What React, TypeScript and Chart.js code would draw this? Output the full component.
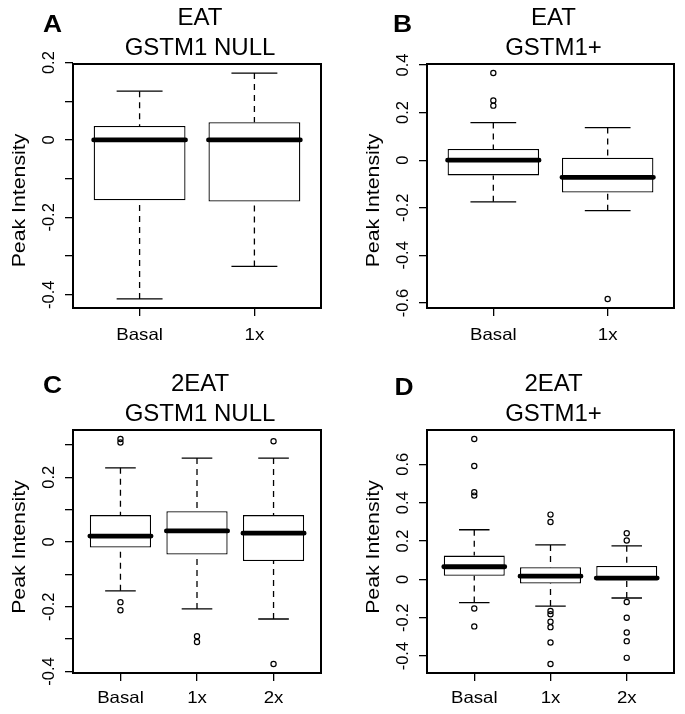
import React, { useEffect, useRef } from 'react';
import { Chart, registerables } from 'chart.js';

Chart.register(...registerables);

// ---------- Panel A: EAT / GSTM1 NULL ----------
const A_LETTER = 'A';
const A_TITLE = ['EAT', 'GSTM1 NULL'];
const A_CATEGORIES = ['Basal', '1x'];
const A_WHISKER_LOW = [-0.411, -0.327];
const A_Q1 = [-0.156, -0.159];
const A_MEDIAN = [0.0, 0.0];
const A_Q3 = [0.036, 0.046];
const A_WHISKER_HIGH = [0.126, 0.173];
const A_OUTLIERS: number[][] = [[], []];
const A_Y_TICKS = [-0.4, -0.3, -0.2, -0.1, 0, 0.1, 0.2];
const A_Y_TICK_LABELS = ['-0.4', '', '-0.2', '', '0', '', '0.2'];

// ---------- Panel B: EAT / GSTM1+ ----------
const B_LETTER = 'B';
const B_TITLE = ['EAT', 'GSTM1+'];
const B_CATEGORIES = ['Basal', '1x'];
const B_WHISKER_LOW = [-0.175, -0.212];
const B_Q1 = [-0.064, -0.136];
const B_MEDIAN = [0.0, -0.072];
const B_Q3 = [0.047, 0.01];
const B_WHISKER_HIGH = [0.158, 0.137];
const B_OUTLIERS: number[][] = [[0.366, 0.251, 0.229], [-0.583]];
const B_Y_TICKS = [-0.6, -0.4, -0.2, 0, 0.2, 0.4];
const B_Y_TICK_LABELS = ['-0.6', '-0.4', '-0.2', '0', '0.2', '0.4'];

// ---------- Panel C: 2EAT / GSTM1 NULL ----------
const C_LETTER = 'C';
const C_TITLE = ['2EAT', 'GSTM1 NULL'];
const C_CATEGORIES = ['Basal', '1x', '2x'];
const C_WHISKER_LOW = [-0.151, -0.207, -0.238];
const C_Q1 = [-0.017, -0.039, -0.059];
const C_MEDIAN = [0.018, 0.034, 0.027];
const C_Q3 = [0.083, 0.095, 0.083];
const C_WHISKER_HIGH = [0.229, 0.259, 0.259];
const C_OUTLIERS: number[][] = [
  [0.318, 0.307, -0.186, -0.211],
  [-0.291, -0.309],
  [0.311, -0.377],
];
const C_Y_TICKS = [-0.4, -0.3, -0.2, -0.1, 0, 0.1, 0.2, 0.3];
const C_Y_TICK_LABELS = ['-0.4', '', '-0.2', '', '0', '', '0.2', ''];

// ---------- Panel D: 2EAT / GSTM1+ ----------
const D_LETTER = 'D';
const D_TITLE = ['2EAT', 'GSTM1+'];
const D_CATEGORIES = ['Basal', '1x', '2x'];
const D_WHISKER_LOW = [-0.121, -0.139, -0.097];
const D_Q1 = [0.019, -0.021, 0.001];
const D_MEDIAN = [0.066, 0.017, 0.007];
const D_Q3 = [0.124, 0.063, 0.07];
const D_WHISKER_HIGH = [0.259, 0.18, 0.175];
const D_OUTLIERS: number[][] = [
  [0.732, 0.591, 0.455, 0.437, -0.152, -0.245],
  [0.338, 0.299, -0.165, -0.182, -0.221, -0.249, -0.329, -0.441],
  [0.241, 0.203, -0.118, -0.2, -0.277, -0.322, -0.409],
];
const D_Y_TICKS = [-0.4, -0.2, 0, 0.2, 0.4, 0.6];
const D_Y_TICK_LABELS = ['-0.4', '-0.2', '0', '0.2', '0.4', '0.6'];

const Y_AXIS_TITLE = 'Peak Intensity';

// ---------- styling ----------
const FAMILY = '"Liberation Sans", Arial, Helvetica, sans-serif';
const FONT_TICK = `16.5px ${FAMILY}`;
const FONT_AXIS = `19px ${FAMILY}`;
const FONT_TITLE = `24px ${FAMILY}`;
const FONT_LETTER = `bold 24px ${FAMILY}`;
const INK = '#000000';

type Layout = {
  left: number; top: number; width: number; height: number;
  frameLeft: number; frameTop: number; frameRight: number; frameBottom: number;
  letterDx: number; letterDy: number; yTitleShift: number; xLabelGap: number;
};

type Spec = {
  letter: string; title: string[]; categories: string[];
  lo: number[]; q1: number[]; med: number[]; q3: number[]; hi: number[];
  outliers: number[][]; yTicks: number[]; yTickLabels: string[];
  layout: Layout;
};

const PANELS: Spec[] = [
  {
    letter: A_LETTER, title: A_TITLE, categories: A_CATEGORIES,
    lo: A_WHISKER_LOW, q1: A_Q1, med: A_MEDIAN, q3: A_Q3, hi: A_WHISKER_HIGH,
    outliers: A_OUTLIERS, yTicks: A_Y_TICKS, yTickLabels: A_Y_TICK_LABELS,
    layout: { left: 0, top: 0, width: 354, height: 367, frameLeft: 73, frameTop: 64, frameRight: 321, frameBottom: 308,
      letterDx: -30, letterDy: -32, yTitleShift: 14.5, xLabelGap: 32 },
  },
  {
    letter: B_LETTER, title: B_TITLE, categories: B_CATEGORIES,
    lo: B_WHISKER_LOW, q1: B_Q1, med: B_MEDIAN, q3: B_Q3, hi: B_WHISKER_HIGH,
    outliers: B_OUTLIERS, yTicks: B_Y_TICKS, yTickLabels: B_Y_TICK_LABELS,
    layout: { left: 354, top: 0, width: 331, height: 367, frameLeft: 427, frameTop: 64, frameRight: 674, frameBottom: 308,
      letterDx: -34, letterDy: -32, yTitleShift: 14.5, xLabelGap: 32 },
  },
  {
    letter: C_LETTER, title: C_TITLE, categories: C_CATEGORIES,
    lo: C_WHISKER_LOW, q1: C_Q1, med: C_MEDIAN, q3: C_Q3, hi: C_WHISKER_HIGH,
    outliers: C_OUTLIERS, yTicks: C_Y_TICKS, yTickLabels: C_Y_TICK_LABELS,
    layout: { left: 0, top: 367, width: 354, height: 347, frameLeft: 73, frameTop: 430, frameRight: 321, frameBottom: 673,
      letterDx: -30, letterDy: -37, yTitleShift: -4.5, xLabelGap: 30 },
  },
  {
    letter: D_LETTER, title: D_TITLE, categories: D_CATEGORIES,
    lo: D_WHISKER_LOW, q1: D_Q1, med: D_MEDIAN, q3: D_Q3, hi: D_WHISKER_HIGH,
    outliers: D_OUTLIERS, yTicks: D_Y_TICKS, yTickLabels: D_Y_TICK_LABELS,
    layout: { left: 354, top: 367, width: 331, height: 347, frameLeft: 427, frameTop: 430, frameRight: 674, frameBottom: 673,
      letterDx: -32.5, letterDy: -35.5, yTitleShift: -4.5, xLabelGap: 30 },
  },
];

function drawText(
  ctx: CanvasRenderingContext2D, text: string, x: number, y: number, font: string,
  align: CanvasTextAlign, rotate: number, stretch: number,
) {
  ctx.save();
  ctx.translate(x, y);
  if (rotate) ctx.rotate(rotate);
  ctx.scale(stretch, 1);
  ctx.font = font;
  ctx.fillStyle = INK;
  ctx.textAlign = align;
  ctx.textBaseline = 'alphabetic';
  ctx.fillText(text, 0, 0);
  ctx.restore();
}

function buildConfig(spec: Spec): any {
  const n = spec.categories.length;
  const L = spec.layout;
  const all = [...spec.lo, ...spec.hi, ...spec.q1, ...spec.q3, ...spec.outliers.flat()];
  const yLo = Math.min(...all);
  const yHi = Math.max(...all);
  const yExt = (yHi - yLo) * 0.04;
  const xExt = n * 0.04;
  const BOX_HALF = 0.4;
  const CAP_HALF = 0.2;

  const boxes = spec.categories.map((_, i) => ({ x: i + 1, y: [spec.q1[i], spec.q3[i]] }));
  const medians: any[] = [];
  const whiskers: any[] = [];
  const caps: any[] = [];
  const outs: any[] = [];
  spec.categories.forEach((_, i) => {
    const c = i + 1;
    medians.push({ x: c - BOX_HALF, y: spec.med[i] }, { x: c + BOX_HALF, y: spec.med[i] }, { x: c + BOX_HALF, y: null });
    whiskers.push({ x: c, y: spec.hi[i] }, { x: c, y: spec.q3[i] }, { x: c, y: null });
    whiskers.push({ x: c, y: spec.lo[i] }, { x: c, y: spec.q1[i] }, { x: c, y: null });
    caps.push({ x: c - CAP_HALF, y: spec.hi[i] }, { x: c + CAP_HALF, y: spec.hi[i] }, { x: c + CAP_HALF, y: null });
    caps.push({ x: c - CAP_HALF, y: spec.lo[i] }, { x: c + CAP_HALF, y: spec.lo[i] }, { x: c + CAP_HALF, y: null });
    spec.outliers[i].forEach((v) => outs.push({ x: c, y: v }));
  });

  const lineBase = {
    type: 'line', pointRadius: 0, pointHoverRadius: 0, fill: false, tension: 0, spanGaps: false,
    borderColor: INK,
  };

  const rPlugin = {
    id: 'rpanel',
    afterDraw(chart: any) {
      const ctx: CanvasRenderingContext2D = chart.ctx;
      const a = chart.chartArea;
      const xs = chart.scales.x;
      const ys = chart.scales.y;
      ctx.save();
      ctx.strokeStyle = INK;
      ctx.lineWidth = 2;
      ctx.strokeRect(a.left, a.top, a.right - a.left, a.bottom - a.top);
      ctx.restore();
      spec.categories.forEach((c, i) => {
        drawText(ctx, c, xs.getPixelForValue(i + 1), a.bottom + L.xLabelGap, FONT_TICK, 'center', 0, 1.13);
      });
      spec.yTicks.forEach((v, i) => {
        const lab = spec.yTickLabels[i];
        if (!lab) return;
        drawText(ctx, lab, a.left - 19, ys.getPixelForValue(v), FONT_TICK, 'center', -Math.PI / 2, 1);
      });
      drawText(ctx, Y_AXIS_TITLE, a.left - 48, (a.top + a.bottom) / 2 + L.yTitleShift, FONT_AXIS, 'center', -Math.PI / 2, 1.12);
      const cx = (a.left + a.right) / 2 + 3;
      drawText(ctx, spec.title[0], cx, a.top - 39, FONT_TITLE, 'center', 0, 1);
      drawText(ctx, spec.title[1], cx, a.top - 9, FONT_TITLE, 'center', 0, 1);
      drawText(ctx, spec.letter, a.left + L.letterDx, a.top + L.letterDy, FONT_LETTER, 'left', 0, 1.1);
    },
  };

  return {
    type: 'bar',
    data: {
      datasets: [
        { ...lineBase, data: medians, borderWidth: 4.8, borderCapStyle: 'round', order: 0 },
        { type: 'scatter', data: outs, pointRadius: 2.6, pointHoverRadius: 2.6, pointBorderWidth: 1.2,
          pointBackgroundColor: 'rgba(0,0,0,0)', pointBorderColor: INK, order: 1 },
        { ...lineBase, data: caps, borderWidth: 1.3, order: 2 },
        { ...lineBase, data: whiskers, borderWidth: 1.3, borderDash: [6, 5], order: 3 },
        { type: 'bar', data: boxes, backgroundColor: '#ffffff', borderColor: INK, borderWidth: 1.3,
          borderSkipped: false, barPercentage: 0.8, categoryPercentage: 1, grouped: false, order: 4 },
      ],
    },
    options: {
      animation: false,
      responsive: false,
      devicePixelRatio: 1,
      events: [],
      layout: { padding: { left: 0, top: L.frameTop - L.top, right: L.left + L.width - L.frameRight, bottom: 0 } },
      plugins: { legend: { display: false }, tooltip: { enabled: false }, title: { display: false } },
      scales: {
        x: {
          type: 'linear', min: 0.5 - xExt, max: n + 0.5 + xExt, offset: false,
          afterBuildTicks: (s: any) => { s.ticks = spec.categories.map((_, i) => ({ value: i + 1 })); },
          afterFit: (s: any) => { s.height = L.top + L.height - L.frameBottom; },
          ticks: { display: false },
          grid: { display: true, offset: false, drawOnChartArea: false, drawTicks: true, tickLength: 8,
            color: INK, tickColor: INK, lineWidth: 1.3, tickWidth: 1.3 },
          border: { display: false },
        },
        y: {
          type: 'linear', min: yLo - yExt, max: yHi + yExt,
          afterBuildTicks: (s: any) => { s.ticks = spec.yTicks.map((v) => ({ value: v })); },
          afterFit: (s: any) => { s.width = L.frameLeft - L.left; },
          ticks: { display: false },
          grid: { display: true, drawOnChartArea: false, drawTicks: true, tickLength: 8,
            color: INK, tickColor: INK, lineWidth: 1.3, tickWidth: 1.3 },
          border: { display: false },
        },
      },
    },
    plugins: [rPlugin],
  };
}

function Panel({ spec }: { spec: Spec }) {
  const ref = useRef<HTMLCanvasElement>(null);
  useEffect(() => {
    const chart = new Chart(ref.current as HTMLCanvasElement, buildConfig(spec));
    return () => chart.destroy();
  }, [spec]);
  const L = spec.layout;
  return (
    <canvas
      ref={ref}
      width={L.width}
      height={L.height}
      style={{ position: 'absolute', left: L.left, top: L.top, width: L.width, height: L.height }}
    />
  );
}

export default function App() {
  return (
    <div style={{ position: 'absolute', left: 0, top: 0, width: 685, height: 714, background: '#ffffff', overflow: 'hidden' }}>
      {PANELS.map((p) => (
        <Panel key={p.letter} spec={p} />
      ))}
    </div>
  );
}
